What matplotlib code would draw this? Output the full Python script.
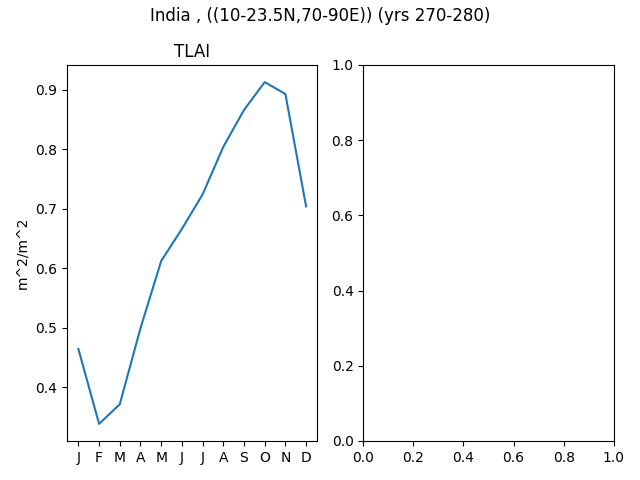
import numpy as np
import matplotlib
matplotlib.use('Agg')
import matplotlib.pyplot as plt

months = ['J', 'F', 'M', 'A', 'M', 'J', 'J', 'A', 'S', 'O', 'N', 'D']
tlai = [0.464, 0.338, 0.371, 0.499, 0.612, 0.666, 0.724, 0.804, 0.866, 0.913, 0.893, 0.704]

f, (ax1, ax2) = plt.subplots(1, 2, figsize=(6.4, 4.8))
x = np.arange(len(months))
ax1.plot(x, tlai)
ax1.set_xticks(x)
ax1.set_xticklabels(months)
ax1.set_title('TLAI')
ax1.set_ylabel('m^2/m^2')
f.suptitle('India , ((10-23.5N,70-90E)) (yrs 270-280)', y=0.985)
f.subplots_adjust(left=0.1047, right=0.959, top=0.8646, bottom=0.0813, wspace=0.183)
f.savefig('out.png', dpi=100)
